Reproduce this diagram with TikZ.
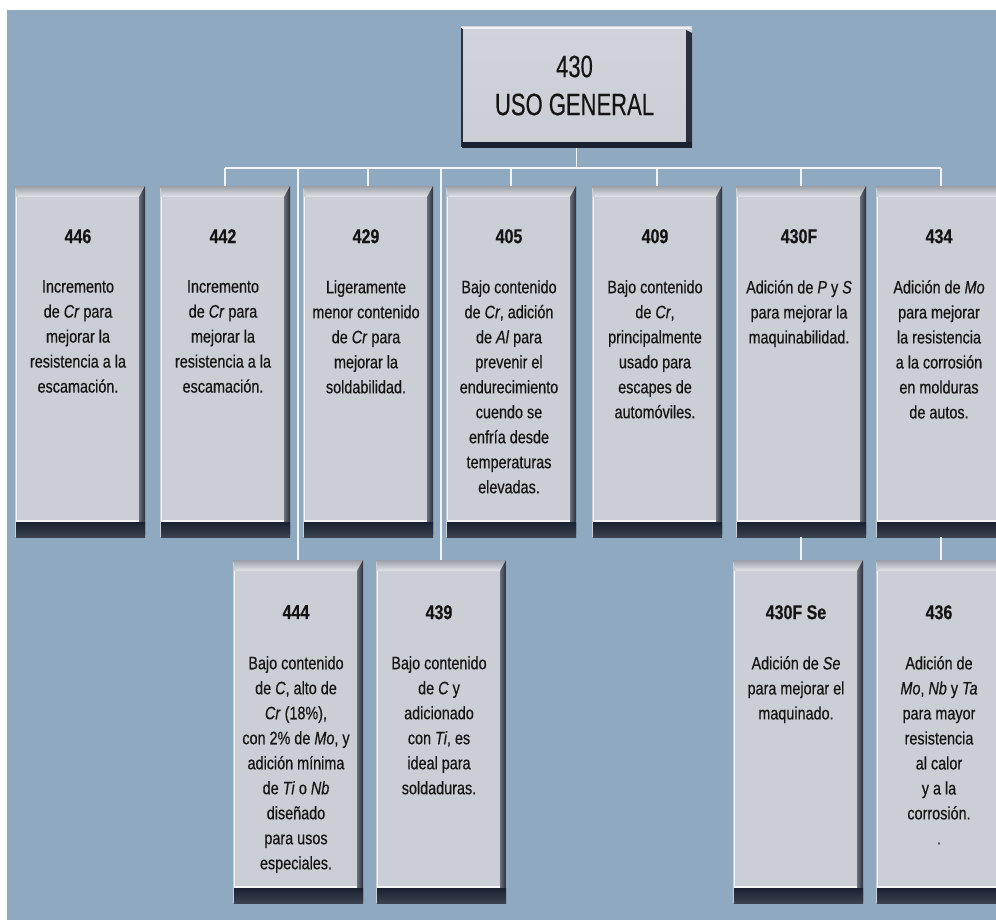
\documentclass[tikz,border=0pt]{standalone}
\usepackage{fontspec}
\setmainfont{Liberation Sans}[FakeStretch=0.8, FakeBold=0.4]
\newfontfamily\headfont{Liberation Sans}[FakeStretch=0.71, FakeBold=0.3]
\usetikzlibrary{calc}

\definecolor{bgblue}{HTML}{8FAAC0}
\definecolor{cardgrey}{HTML}{CBCED5}
\definecolor{bevtop}{HTML}{9A9FA7}
\definecolor{bevlow}{HTML}{E3E5E9}
\definecolor{edgeA}{HTML}{6A707A}
\definecolor{edgeB}{HTML}{2A303B}
\definecolor{shadowA}{HTML}{1A2130}
\definecolor{shadowB}{HTML}{3A4250}
\definecolor{ink}{HTML}{141414}
\definecolor{wire}{HTML}{F2F5F8}

% bevelled border of a card: grey top lip, dark right edge, thick dark foot
\newcommand\cardbevel[1]{%
  \shade[top color=bevtop, bottom color=bevlow]
    (#1.north west) -- (#1.north east) -- ($(#1.north east)+(-6,11)$)
    -- ($(#1.north west)+(3,11)$) -- cycle;
  \shade[left color=edgeA, right color=edgeB]
    ($(#1.north east)+(-6,11)$) -- (#1.north east) -- ($(#1.south east)+(0,-2)$)
    -- ($(#1.south east)+(-6,-15)$) -- cycle;
  \draw[white!80!cardgrey, line width=1.5]
    ($(#1.north west)+(1.5,11)$) -- ($(#1.south west)+(1.5,-15)$);
  \shade[top color=shadowA, bottom color=shadowB]
    ($(#1.south west)+(1,-15)$) rectangle (#1.south east);
  \draw[white!75!cardgrey, line width=1.5]
    ($(#1.south west)+(2,-16)$) -- ($(#1.south east)+(-6,-16)$);
}

% bevelled border of the heading box
\newcommand\headbevel[1]{%
  \draw[edgeB, line width=2] ($(#1.north west)+(1,1)$) -- ($(#1.south west)+(1,-1)$);
  \draw[white!70!cardgrey, line width=2] ($(#1.north west)+(1,1)$) -- ($(#1.north east)+(-1,1)$);
  \fill[edgeB] ($(#1.north east)+(-6,3)$) -- ($(#1.north east)+(0,6)$)
    -- (#1.south east) -- ($(#1.south east)+(-6,0)$) -- cycle;
  \fill[shadowA] ($(#1.south west)+(1,-6)$) rectangle ($(#1.south east)+(0,0)$);
}

\tikzset{
  card/.style={fill=cardgrey, minimum width=130pt, anchor=north west,
    inner sep=0pt, outer sep=0pt},
  cardA/.style={card, minimum height=351pt},
  cardB/.style={card, minimum height=343pt},
  headbox/.style={top color=cardgrey!90!white, bottom color=cardgrey, minimum width=231pt,
    minimum height=121pt, anchor=north west, inner sep=0pt, outer sep=0pt},
  cardtitle/.style={anchor=north, inner sep=0pt, text=ink,
    font=\fontsize{20}{24}\selectfont\bfseries},
  cardtext/.style={anchor=north, inner sep=0pt, align=center, text=ink,
    font=\fontsize{18}{25}\selectfont},
  headtext/.style={anchor=center, inner sep=0pt, align=center, text=ink,
    font=\headfont\fontsize{31}{38}\selectfont},
  wireline/.style={draw=wire, line width=1.4pt}
}

\begin{document}
\begin{tikzpicture}[x=1pt, y=-1pt]
  \useasboundingbox (0,0) rectangle (996,920);
  \clip (0,0) rectangle (996,920);
  \fill[white] (0,0) rectangle (996,920);
  \fill[bgblue] (7,10) rectangle (996,920);

  % heading box
  \node[headbox] (top) at (461,27) {};
  \headbevel{top}
  \node[headtext] (toptext) at ($(top.center)+(-2,-2)$) {430\\USO GENERAL};

  % first row of cards
  \node[cardA] (b446) at (15,186) {};
  \node[cardA] (b442) at (160,186) {};
  \node[cardA] (b429) at (303,186) {};
  \node[cardA] (b405) at (446,186) {};
  \node[cardA] (b409) at (592,186) {};
  \node[cardA] (b430F) at (736,186) {};
  \node[cardA] (b434) at (876,186) {};

  % second row of cards
  \node[cardB] (b444) at (233,560) {};
  \node[cardB] (b439) at (376,560) {};
  \node[cardB] (b430FSe) at (733,560) {};
  \node[cardB] (b436) at (876,560) {};

  \foreach \n in {b446,b442,b429,b405,b409,b430F,b434,b444,b439,b430FSe,b436}
    {\cardbevel{\n}}

  % connectors
  \coordinate (bus) at (0,168);
  \draw[wireline] (top.south) -- (top.south |- bus);
  \draw[wireline] (b442.north |- bus) -- (b434.north |- bus);
  \foreach \n in {b442,b429,b405,b409,b430F,b434}
    {\draw[wireline] (\n.north |- bus) -- (\n.north);}
  \draw[wireline] (b444.north |- bus) -- (b444.north);
  \draw[wireline] (b439.north |- bus) -- (b439.north);
  \draw[wireline] (b430F.south) -- (b430F.south |- b430FSe.north);
  \draw[wireline] (b434.south) -- (b434.south |- b436.north);

  % card texts
  \node[cardtitle] (h446) at ($(b446.north)+(-2,43)$) {446};
  \node[cardtext] (t446) at ($(b446.north)+(-2,94)$)
    {Incremento\\de \textit{Cr} para\\mejorar la\\resistencia a la\\escamación.};

  \node[cardtitle] (h442) at ($(b442.north)+(-2,43)$) {442};
  \node[cardtext] (t442) at ($(b442.north)+(-2,94)$)
    {Incremento\\de \textit{Cr} para\\mejorar la\\resistencia a la\\escamación.};

  \node[cardtitle] (h429) at ($(b429.north)+(-2,43)$) {429};
  \node[cardtext] (t429) at ($(b429.north)+(-2,94)$)
    {Ligeramente\\menor contenido\\de \textit{Cr} para\\mejorar la\\soldabilidad.};

  \node[cardtitle] (h405) at ($(b405.north)+(-2,43)$) {405};
  \node[cardtext] (t405) at ($(b405.north)+(-2,94)$)
    {Bajo contenido\\de \textit{Cr}, adición\\de \textit{Al} para\\prevenir el\\endurecimiento\\cuendo se\\enfría desde\\temperaturas\\elevadas.};

  \node[cardtitle] (h409) at ($(b409.north)+(-2,43)$) {409};
  \node[cardtext] (t409) at ($(b409.north)+(-2,94)$)
    {Bajo contenido\\de \textit{Cr},\\principalmente\\usado para\\escapes de\\automóviles.};

  \node[cardtitle] (h430F) at ($(b430F.north)+(-2,43)$) {430F};
  \node[cardtext] (t430F) at ($(b430F.north)+(-2,94)$)
    {Adición de \textit{P} y \textit{S}\\para mejorar la\\maquinabilidad.};

  \node[cardtitle] (h434) at ($(b434.north)+(-2,43)$) {434};
  \node[cardtext] (t434) at ($(b434.north)+(-2,94)$)
    {Adición de \textit{Mo}\\para mejorar\\la resistencia\\a la corrosión\\en molduras\\de autos.};

  \node[cardtitle] (h444) at ($(b444.north)+(-2,45)$) {444};
  \node[cardtext] (t444) at ($(b444.north)+(-2,96)$)
    {Bajo contenido\\de \textit{C}, alto de\\\textit{Cr} (18\%),\\con 2\% de \textit{Mo}, y\\adición mínima\\de \textit{Ti} o \textit{Nb}\\diseñado\\para usos\\especiales.};

  \node[cardtitle] (h439) at ($(b439.north)+(-2,45)$) {439};
  \node[cardtext] (t439) at ($(b439.north)+(-2,96)$)
    {Bajo contenido\\de \textit{C} y\\adicionado\\con \textit{Ti}, es\\ideal para\\soldaduras.};

  \node[cardtitle] (h430FSe) at ($(b430FSe.north)+(-2,45)$) {430F Se};
  \node[cardtext] (t430FSe) at ($(b430FSe.north)+(-2,96)$)
    {Adición de \textit{Se}\\para mejorar el\\maquinado.};

  \node[cardtitle] (h436) at ($(b436.north)+(-2,45)$) {436};
  \node[cardtext] (t436) at ($(b436.north)+(-2,96)$)
    {Adición de\\\textit{Mo}, \textit{Nb} y \textit{Ta}\\para mayor\\resistencia\\al calor\\y a la\\corrosión.\\.};
\end{tikzpicture}
\end{document}
